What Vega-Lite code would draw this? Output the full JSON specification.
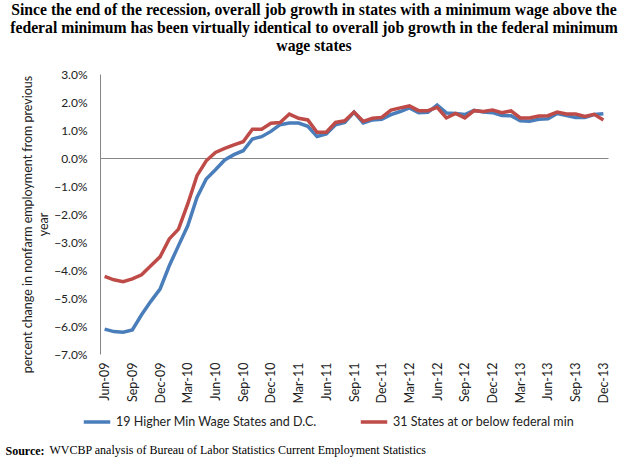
{
  "$schema": "https://vega.github.io/schema/vega-lite/v6.json",
  "width": 508,
  "height": 280,
  "autosize": "none",
  "padding": {"left": 100, "top": 74, "right": 21, "bottom": 111},
  "background": "white",
  "title": {
    "text": ["Since the end of the recession, overall job growth in states with a minimum wage above the", "federal minimum has been virtually identical to overall job growth in the federal minimum", "wage states"],
    "font": "Liberation Serif", "fontSize": 15.7, "fontWeight": "bold", "lineHeight": 18,
    "anchor": "middle", "dx": -40, "offset": 13, "color": "black"
  },
  "config": {
    "view": {"stroke": null},
    "axis": {"labelFont": "Lato", "labelFontSize": 12, "labelColor": "#222", "titleFont": "Lato", "titleFontSize": 12.5, "titleColor": "#222", "titleFontWeight": "normal", "grid": false}
  },
  "data": {"values": [
    {"month": "Jun-09", "series": "19 Higher Min Wage States and D.C.", "value": -6.11},
    {"month": "Jul-09", "series": "19 Higher Min Wage States and D.C.", "value": -6.2},
    {"month": "Aug-09", "series": "19 Higher Min Wage States and D.C.", "value": -6.22},
    {"month": "Sep-09", "series": "19 Higher Min Wage States and D.C.", "value": -6.14},
    {"month": "Oct-09", "series": "19 Higher Min Wage States and D.C.", "value": -5.6},
    {"month": "Nov-09", "series": "19 Higher Min Wage States and D.C.", "value": -5.12},
    {"month": "Dec-09", "series": "19 Higher Min Wage States and D.C.", "value": -4.68},
    {"month": "Jan-10", "series": "19 Higher Min Wage States and D.C.", "value": -3.85},
    {"month": "Feb-10", "series": "19 Higher Min Wage States and D.C.", "value": -3.13},
    {"month": "Mar-10", "series": "19 Higher Min Wage States and D.C.", "value": -2.42},
    {"month": "Apr-10", "series": "19 Higher Min Wage States and D.C.", "value": -1.41},
    {"month": "May-10", "series": "19 Higher Min Wage States and D.C.", "value": -0.75},
    {"month": "Jun-10", "series": "19 Higher Min Wage States and D.C.", "value": -0.42},
    {"month": "Jul-10", "series": "19 Higher Min Wage States and D.C.", "value": -0.07},
    {"month": "Aug-10", "series": "19 Higher Min Wage States and D.C.", "value": 0.12},
    {"month": "Sep-10", "series": "19 Higher Min Wage States and D.C.", "value": 0.26},
    {"month": "Oct-10", "series": "19 Higher Min Wage States and D.C.", "value": 0.68},
    {"month": "Nov-10", "series": "19 Higher Min Wage States and D.C.", "value": 0.76},
    {"month": "Dec-10", "series": "19 Higher Min Wage States and D.C.", "value": 0.95},
    {"month": "Jan-11", "series": "19 Higher Min Wage States and D.C.", "value": 1.19},
    {"month": "Feb-11", "series": "19 Higher Min Wage States and D.C.", "value": 1.25},
    {"month": "Mar-11", "series": "19 Higher Min Wage States and D.C.", "value": 1.25},
    {"month": "Apr-11", "series": "19 Higher Min Wage States and D.C.", "value": 1.13},
    {"month": "May-11", "series": "19 Higher Min Wage States and D.C.", "value": 0.77},
    {"month": "Jun-11", "series": "19 Higher Min Wage States and D.C.", "value": 0.86},
    {"month": "Jul-11", "series": "19 Higher Min Wage States and D.C.", "value": 1.19},
    {"month": "Aug-11", "series": "19 Higher Min Wage States and D.C.", "value": 1.27},
    {"month": "Sep-11", "series": "19 Higher Min Wage States and D.C.", "value": 1.64},
    {"month": "Oct-11", "series": "19 Higher Min Wage States and D.C.", "value": 1.25},
    {"month": "Nov-11", "series": "19 Higher Min Wage States and D.C.", "value": 1.36},
    {"month": "Dec-11", "series": "19 Higher Min Wage States and D.C.", "value": 1.38},
    {"month": "Jan-12", "series": "19 Higher Min Wage States and D.C.", "value": 1.55},
    {"month": "Feb-12", "series": "19 Higher Min Wage States and D.C.", "value": 1.66},
    {"month": "Mar-12", "series": "19 Higher Min Wage States and D.C.", "value": 1.79},
    {"month": "Apr-12", "series": "19 Higher Min Wage States and D.C.", "value": 1.62},
    {"month": "May-12", "series": "19 Higher Min Wage States and D.C.", "value": 1.63},
    {"month": "Jun-12", "series": "19 Higher Min Wage States and D.C.", "value": 1.89},
    {"month": "Jul-12", "series": "19 Higher Min Wage States and D.C.", "value": 1.61},
    {"month": "Aug-12", "series": "19 Higher Min Wage States and D.C.", "value": 1.59},
    {"month": "Sep-12", "series": "19 Higher Min Wage States and D.C.", "value": 1.55},
    {"month": "Oct-12", "series": "19 Higher Min Wage States and D.C.", "value": 1.7},
    {"month": "Nov-12", "series": "19 Higher Min Wage States and D.C.", "value": 1.64},
    {"month": "Dec-12", "series": "19 Higher Min Wage States and D.C.", "value": 1.62},
    {"month": "Jan-13", "series": "19 Higher Min Wage States and D.C.", "value": 1.52},
    {"month": "Feb-13", "series": "19 Higher Min Wage States and D.C.", "value": 1.51},
    {"month": "Mar-13", "series": "19 Higher Min Wage States and D.C.", "value": 1.33},
    {"month": "Apr-13", "series": "19 Higher Min Wage States and D.C.", "value": 1.31},
    {"month": "May-13", "series": "19 Higher Min Wage States and D.C.", "value": 1.38},
    {"month": "Jun-13", "series": "19 Higher Min Wage States and D.C.", "value": 1.4},
    {"month": "Jul-13", "series": "19 Higher Min Wage States and D.C.", "value": 1.59},
    {"month": "Aug-13", "series": "19 Higher Min Wage States and D.C.", "value": 1.52},
    {"month": "Sep-13", "series": "19 Higher Min Wage States and D.C.", "value": 1.45},
    {"month": "Oct-13", "series": "19 Higher Min Wage States and D.C.", "value": 1.45},
    {"month": "Nov-13", "series": "19 Higher Min Wage States and D.C.", "value": 1.55},
    {"month": "Dec-13", "series": "19 Higher Min Wage States and D.C.", "value": 1.58},
    {"month": "Jun-09", "series": "31 States at or below federal min", "value": -4.23},
    {"month": "Jul-09", "series": "31 States at or below federal min", "value": -4.35},
    {"month": "Aug-09", "series": "31 States at or below federal min", "value": -4.42},
    {"month": "Sep-09", "series": "31 States at or below federal min", "value": -4.32},
    {"month": "Oct-09", "series": "31 States at or below federal min", "value": -4.17},
    {"month": "Nov-09", "series": "31 States at or below federal min", "value": -3.85},
    {"month": "Dec-09", "series": "31 States at or below federal min", "value": -3.53},
    {"month": "Jan-10", "series": "31 States at or below federal min", "value": -2.89},
    {"month": "Feb-10", "series": "31 States at or below federal min", "value": -2.54},
    {"month": "Mar-10", "series": "31 States at or below federal min", "value": -1.64},
    {"month": "Apr-10", "series": "31 States at or below federal min", "value": -0.63},
    {"month": "May-10", "series": "31 States at or below federal min", "value": -0.1},
    {"month": "Jun-10", "series": "31 States at or below federal min", "value": 0.2},
    {"month": "Jul-10", "series": "31 States at or below federal min", "value": 0.34},
    {"month": "Aug-10", "series": "31 States at or below federal min", "value": 0.47},
    {"month": "Sep-10", "series": "31 States at or below federal min", "value": 0.58},
    {"month": "Oct-10", "series": "31 States at or below federal min", "value": 1.03},
    {"month": "Nov-10", "series": "31 States at or below federal min", "value": 1.03},
    {"month": "Dec-10", "series": "31 States at or below federal min", "value": 1.24},
    {"month": "Jan-11", "series": "31 States at or below federal min", "value": 1.27},
    {"month": "Feb-11", "series": "31 States at or below federal min", "value": 1.57},
    {"month": "Mar-11", "series": "31 States at or below federal min", "value": 1.42},
    {"month": "Apr-11", "series": "31 States at or below federal min", "value": 1.36},
    {"month": "May-11", "series": "31 States at or below federal min", "value": 0.92},
    {"month": "Jun-11", "series": "31 States at or below federal min", "value": 0.92},
    {"month": "Jul-11", "series": "31 States at or below federal min", "value": 1.27},
    {"month": "Aug-11", "series": "31 States at or below federal min", "value": 1.33},
    {"month": "Sep-11", "series": "31 States at or below federal min", "value": 1.64},
    {"month": "Oct-11", "series": "31 States at or below federal min", "value": 1.31},
    {"month": "Nov-11", "series": "31 States at or below federal min", "value": 1.42},
    {"month": "Dec-11", "series": "31 States at or below federal min", "value": 1.45},
    {"month": "Jan-12", "series": "31 States at or below federal min", "value": 1.71},
    {"month": "Feb-12", "series": "31 States at or below federal min", "value": 1.79},
    {"month": "Mar-12", "series": "31 States at or below federal min", "value": 1.86},
    {"month": "Apr-12", "series": "31 States at or below federal min", "value": 1.69},
    {"month": "May-12", "series": "31 States at or below federal min", "value": 1.69},
    {"month": "Jun-12", "series": "31 States at or below federal min", "value": 1.81},
    {"month": "Jul-12", "series": "31 States at or below federal min", "value": 1.43},
    {"month": "Aug-12", "series": "31 States at or below federal min", "value": 1.59},
    {"month": "Sep-12", "series": "31 States at or below federal min", "value": 1.43},
    {"month": "Oct-12", "series": "31 States at or below federal min", "value": 1.69},
    {"month": "Nov-12", "series": "31 States at or below federal min", "value": 1.66},
    {"month": "Dec-12", "series": "31 States at or below federal min", "value": 1.71},
    {"month": "Jan-13", "series": "31 States at or below federal min", "value": 1.62},
    {"month": "Feb-13", "series": "31 States at or below federal min", "value": 1.68},
    {"month": "Mar-13", "series": "31 States at or below federal min", "value": 1.43},
    {"month": "Apr-13", "series": "31 States at or below federal min", "value": 1.43},
    {"month": "May-13", "series": "31 States at or below federal min", "value": 1.5},
    {"month": "Jun-13", "series": "31 States at or below federal min", "value": 1.51},
    {"month": "Jul-13", "series": "31 States at or below federal min", "value": 1.64},
    {"month": "Aug-13", "series": "31 States at or below federal min", "value": 1.57},
    {"month": "Sep-13", "series": "31 States at or below federal min", "value": 1.57},
    {"month": "Oct-13", "series": "31 States at or below federal min", "value": 1.48},
    {"month": "Nov-13", "series": "31 States at or below federal min", "value": 1.56},
    {"month": "Dec-13", "series": "31 States at or below federal min", "value": 1.36}
  ]},
  "resolve": {"axis": {"x": "independent"}},
  "layer": [
    {
      "mark": {"type": "line", "strokeWidth": 3.5},
      "encoding": {
        "x": {"field": "month", "type": "ordinal", "sort": null, "scale": {"type": "point", "padding": 0.5},
          "axis": {"values": ["Jun-09","Sep-09","Dec-09","Mar-10","Jun-10","Sep-10","Dec-10","Mar-11","Jun-11","Sep-11","Dec-11","Mar-12","Jun-12","Sep-12","Dec-12","Mar-13","Jun-13","Sep-13","Dec-13"],
            "labelAngle": -90, "labelPadding": 8, "labelFontSize": 12.5, "labelOverlap": false, "ticks": false, "domain": false,
            "title": "WVCBP analysis of Bureau of Labor Statistics Current Employment Statistics",
            "titleFont": "Liberation Serif", "titleFontSize": 12, "titleColor": "black",
            "titleX": -51, "titleY": 99, "titleAlign": "left", "titleAnchor": null, "titleBaseline": "alphabetic"}},
        "y": {"field": "value", "type": "quantitative", "scale": {"domain": [-7, 3], "nice": false},
          "axis": {"tickCount": 10, "labelExpr": "format(datum.value, '.1f') + '%'", "labelOverlap": false, "labelFlush": false, "labelBound": false, "ticks": false, "domainColor": "#868686", "labelPadding": 13,
            "title": ["percent change in nonfarm employment from previous", "year"], "titleX": -66, "titleY": 150, "titleAlign": "center", "titleLineHeight": 16}},
        "color": {"field": "series", "type": "nominal",
          "scale": {"domain": ["19 Higher Min Wage States and D.C.", "31 States at or below federal min"], "range": ["#4A7EBB", "#BE4B48"]},
          "legend": {"orient": "none", "direction": "horizontal", "legendX": -18, "legendY": 333, "title": null,
            "symbolType": "stroke", "symbolSize": 700, "symbolStrokeWidth": 3.5, "labelFont": "Lato", "labelFontSize": 12.5, "labelColor": "#222", "labelLimit": 400, "columnPadding": 36, "labelOffset": 4}}
      }
    },
    {
      "mark": {"type": "rule", "opacity": 0},
      "encoding": {
        "x": {"field": "month", "type": "ordinal", "sort": null, "scale": {"type": "point", "padding": 0.5},
          "axis": {"orient": "top", "offset": -84, "labels": false, "ticks": false, "domain": true, "domainColor": "#868686", "domainWidth": 1.2, "title": "Source:",
            "titleFont": "Liberation Serif", "titleFontSize": 12, "titleFontWeight": "bold", "titleColor": "black",
            "titleX": -95, "titleY": 296, "titleAlign": "left", "titleAnchor": null, "titleBaseline": "alphabetic", "titleAngle": 0}}
      }
    }
  ]
}
